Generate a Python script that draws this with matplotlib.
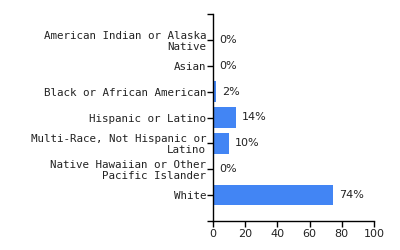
import matplotlib.pyplot as plt
from matplotlib.ticker import FixedLocator

# Race / ethnicity share (percent)
categories = ['American Indian or Alaska\nNative', 'Asian', 'Black or African American',
              'Hispanic or Latino', 'Multi-Race, Not Hispanic or\nLatino',
              'Native Hawaiian or Other\nPacific Islander', 'White']
values = [0, 0, 1.7, 14.3, 9.9, 0, 74.5]
labels = ['0%', '0%', '2%', '14%', '10%', '0%', '74%']
x_ticks = [0, 20, 40, 60, 80, 100]

plt.rcParams['font.family'] = ['DejaVu Sans']

fig = plt.figure(figsize=(4, 2.5), dpi=100)
ax = fig.add_axes([0.5325, 0.116, 0.4025, 0.828])

pos = list(range(len(categories)))
ax.barh(pos, values, height=0.8, color='#4285f4')

for p, v, lab in zip(pos, values, labels):
    ax.annotate(lab, (v, p), xytext=(4.5, 0), textcoords='offset points',
                va='center', ha='left', fontsize=8, color='#222222')

ax.set_xlim(0, 100)
ax.set_ylim(7, -1)
ax.set_xticks(x_ticks)
ax.set_yticks(pos)
ax.set_yticklabels(categories, fontsize=7.8, linespacing=1.1, color='#222222',
                   family='DejaVu Sans Mono')
ax.yaxis.set_minor_locator(FixedLocator([-1, 7]))
ax.tick_params(axis='x', labelsize=8, length=4, width=1, pad=2, colors='black', labelcolor='#222222')
ax.tick_params(axis='y', which='both', length=4, width=1, pad=1)

for s in ['top', 'right']:
    ax.spines[s].set_visible(False)
for s in ['left', 'bottom']:
    ax.spines[s].set_linewidth(1)

fig.savefig('out.png', dpi=100)
